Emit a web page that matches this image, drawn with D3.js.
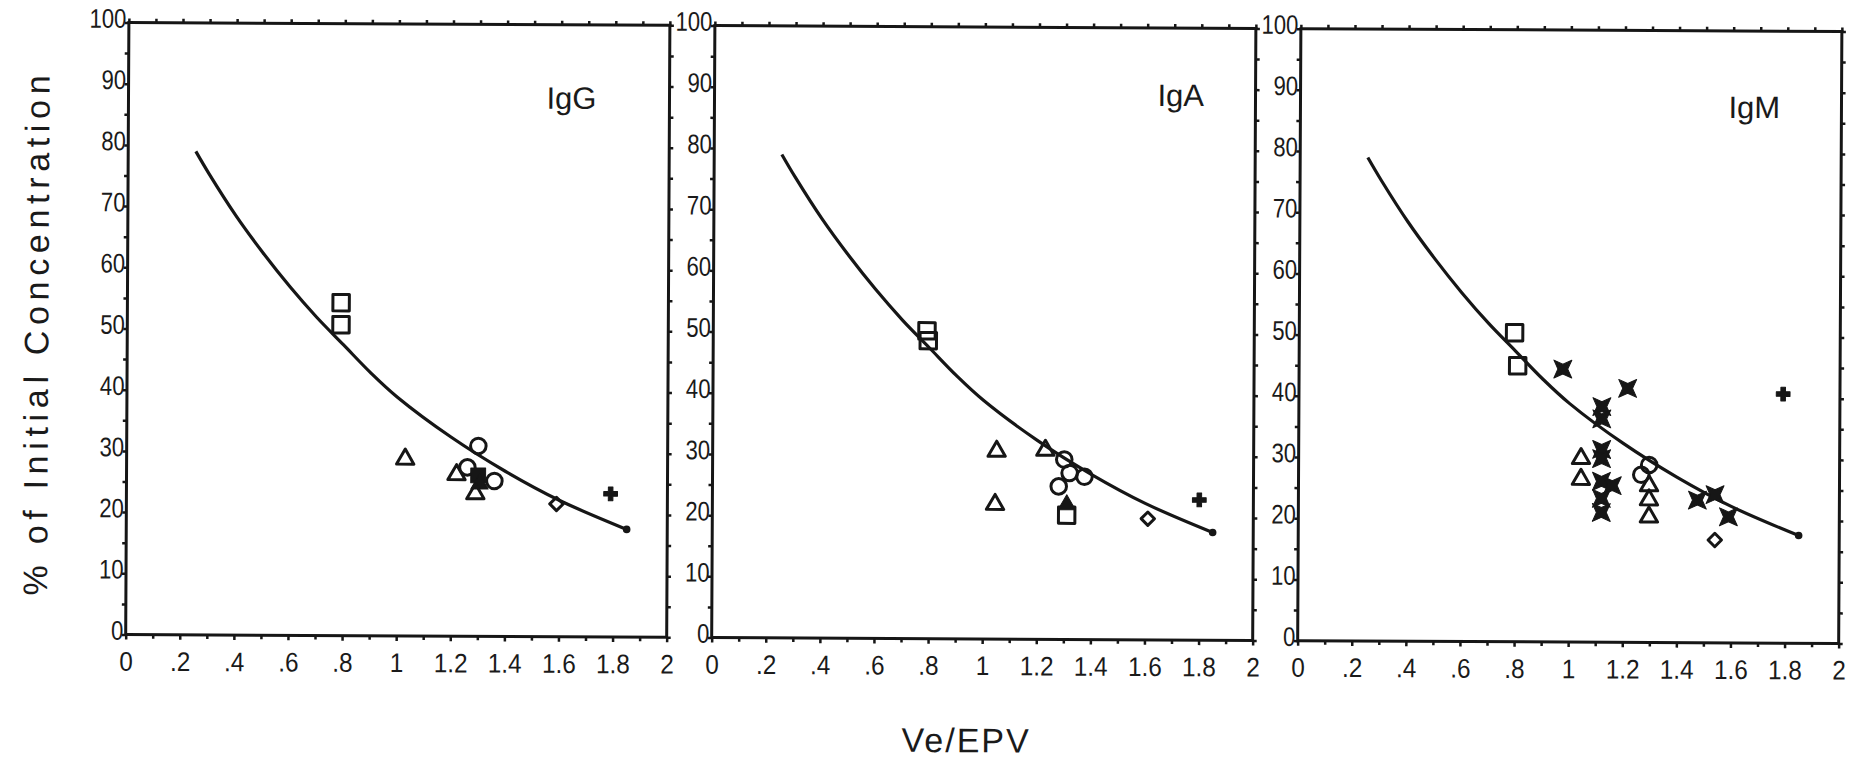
<!DOCTYPE html>
<html>
<head>
<meta charset="utf-8">
<script src="https://cdn.jsdelivr.net/npm/d3@7"></script>
<style>
  body { margin: 0; background: #fff; }
  svg { display: block; }
  .axis text { font-family: "Liberation Sans", Arial, sans-serif; font-size: 27px; fill: #1a1a1a; }
  .axis line { stroke: #161616; stroke-width: 2.5; }
  .title { font-family: "Liberation Sans", Arial, sans-serif; font-size: 31px; fill: #1a1a1a; }
  .label { font-family: "Liberation Sans", Arial, sans-serif; fill: #1a1a1a; }
</style>
</head>
<body>
<div id="chart"></div>
<script>
// tick labels
const xTicks = [0, 0.2, 0.4, 0.6, 0.8, 1, 1.2, 1.4, 1.6, 1.8, 2];
const xTickLabels = ["0", ".2", ".4", ".6", ".8", "1", "1.2", "1.4", "1.6", "1.8", "2"];
const yTicks = [0, 10, 20, 30, 40, 50, 60, 70, 80, 90, 100];
const panelNames = ["IgG", "IgA", "IgM"];

// fitted curve (same in all panels)
const fitX = [0.25, 0.3, 0.4, 0.5, 0.6, 0.7, 0.8, 0.9, 1.0, 1.2, 1.4, 1.6, 1.85];
const fitY = [79, 75.3, 68.5, 62.5, 57, 52, 47.5, 43, 39, 32.5, 27, 22.3, 17.6];

// measured points  [Ve/EPV, % of initial, marker]
const iggPoints = [
  [0.79, 54.4, "square"], [0.79, 50.8, "square"],
  [1.03, 28.9, "triangle"], [1.22, 26.4, "triangle"],
  [1.30, 31.1, "circle"], [1.26, 27.6, "circle"],
  [1.30, 26.3, "fsquare"], [1.305, 24.9, "ftriangle"],
  [1.36, 25.4, "circle"], [1.29, 23.3, "triangle"],
  [1.59, 21.7, "diamond"], [1.79, 23.4, "plus"]
];
const igaPoints = [
  [0.79, 50.3, "square"], [0.795, 48.7, "square"],
  [1.05, 30.7, "triangle"], [1.045, 22.0, "triangle"], [1.23, 30.9, "triangle"],
  [1.30, 29.4, "circle"], [1.32, 27.2, "circle"], [1.28, 25.0, "circle"], [1.375, 26.6, "circle"],
  [1.31, 22.0, "ftriangle"], [1.31, 20.3, "square"],
  [1.61, 19.8, "diamond"], [1.80, 22.9, "plus"]
];
const igmPoints = [
  [0.796, 50.5, "square"], [0.808, 45.1, "square"],
  [0.975, 44.6, "star"], [1.215, 41.5, "star"],
  [1.12, 38.5, "star"], [1.12, 36.5, "star"], [1.12, 31.5, "star"], [1.12, 30.0, "star"],
  [1.044, 30.0, "triangle"], [1.044, 26.6, "triangle"],
  [1.12, 26.3, "star"], [1.16, 25.6, "star"], [1.12, 23.5, "star"], [1.12, 21.2, "star"],
  [1.296, 29.0, "circle"], [1.267, 27.4, "circle"],
  [1.296, 25.6, "triangle"], [1.296, 23.3, "triangle"], [1.296, 20.5, "triangle"],
  [1.475, 23.3, "star"], [1.54, 24.2, "star"], [1.59, 20.6, "star"],
  [1.54, 16.8, "diamond"], [1.79, 40.7, "plus"]
];
const panelData = [iggPoints, igaPoints, igmPoints];

const width = 1856, height = 773;
const lefts = [127, 713, 1299];
const panelTop = 26.7, pw = 541, ph = 612;
const titlePos = [[418, 84], [443, 78], [428, 87]];
const ink = "#161616";

// concave-sided filled X
const starSymbol = {
  draw(ctx, size) {
    const h = Math.sqrt(size) / 2, k = h * 0.55;
    ctx.moveTo(-h, -h); ctx.lineTo(0, -k); ctx.lineTo(h, -h); ctx.lineTo(k, 0);
    ctx.lineTo(h, h); ctx.lineTo(0, k); ctx.lineTo(-h, h); ctx.lineTo(-k, 0);
    ctx.closePath();
  }
};
// square-ish diamond
const diamondSymbol = {
  draw(ctx, size) {
    const h = Math.sqrt(size) / 2;
    ctx.moveTo(0, -h); ctx.lineTo(h, 0); ctx.lineTo(0, h); ctx.lineTo(-h, 0);
    ctx.closePath();
  }
};
const shapes = {
  square: { type: d3.symbolSquare, size: 270, fill: false },
  fsquare: { type: d3.symbolSquare, size: 220, fill: true },
  triangle: { type: d3.symbolTriangle, size: 130, fill: false },
  ftriangle: { type: d3.symbolTriangle, size: 130, fill: true },
  circle: { type: d3.symbolCircle, size: 190, fill: false },
  diamond: { type: diamondSymbol, size: 180, fill: false },
  plus: { type: d3.symbolCross, size: 105, fill: true },
  star: { type: starSymbol, size: 320, fill: true }
};

const svg = d3.select("#chart").append("svg").attr("width", width).attr("height", height);
svg.append("rect").attr("width", width).attr("height", height).attr("fill", "#fff");
const root = svg.append("g").attr("transform", "rotate(0.3 928 386)");

const minorX = d3.range(1, 20, 2).map(d => d / 10);
const minorY = d3.range(5, 100, 10);

panelNames.forEach((name, i) => {
  const g = root.append("g").attr("transform", `translate(${lefts[i]},${panelTop})`);
  const x = d3.scaleLinear().domain([0, 2]).range([0, pw]);
  const y = d3.scaleLinear().domain([0, 100]).range([ph, 0]);

  const noDomain = s => s.select(".domain").remove();

  // bottom
  g.append("g").attr("class", "axis").attr("transform", `translate(0,${ph})`)
    .call(d3.axisBottom(x).tickValues(xTicks).tickSize(5).tickPadding(12)
      .tickFormat((d, j) => xTickLabels[j]))
    .call(noDomain)
    .call(s => s.selectAll("text").attr("transform", "scale(0.9,1)"));
  g.append("g").attr("class", "axis").attr("transform", `translate(0,${ph})`)
    .call(d3.axisBottom(x).tickValues(minorX).tickSize(4).tickFormat(""))
    .call(noDomain);
  // top
  g.append("g").attr("class", "axis")
    .call(d3.axisTop(x).tickValues(xTicks.concat(minorX)).tickSize(4).tickFormat(""))
    .call(noDomain);
  // left
  g.append("g").attr("class", "axis")
    .call(d3.axisLeft(y).tickValues(yTicks).tickSize(4).tickPadding(-1))
    .call(noDomain)
    .call(s => s.selectAll("text").attr("dy", "0.18em").attr("transform", "scale(0.82,1)"));
  g.append("g").attr("class", "axis")
    .call(d3.axisLeft(y).tickValues(minorY).tickSize(4).tickFormat(""))
    .call(noDomain);
  // right
  g.append("g").attr("class", "axis").attr("transform", `translate(${pw},0)`)
    .call(d3.axisRight(y).tickValues(yTicks.concat(minorY)).tickSize(4).tickFormat(""))
    .call(noDomain);

  // frame
  g.append("rect").attr("width", pw).attr("height", ph)
    .attr("fill", "none").attr("stroke", ink).attr("stroke-width", 3);

  // fitted curve
  const line = d3.line().x(d => x(d[0])).y(d => y(d[1])).curve(d3.curveCatmullRom);
  const fit = fitX.map((v, j) => [v, fitY[j]]);
  g.append("path").datum(fit).attr("d", line)
    .attr("fill", "none").attr("stroke", ink).attr("stroke-width", 3.2);
  g.append("circle").attr("cx", x(fitX[fitX.length - 1])).attr("cy", y(fitY[fitY.length - 1]))
    .attr("r", 3.8).attr("fill", ink);

  // markers
  g.selectAll(".pt").data(panelData[i]).join("path")
    .attr("class", "pt")
    .attr("transform", d => `translate(${x(d[0])},${y(d[1])})`)
    .attr("d", d => d3.symbol().type(shapes[d[2]].type).size(shapes[d[2]].size)())
    .attr("fill", d => shapes[d[2]].fill ? ink : "none")
    .attr("stroke", ink)
    .attr("stroke-width", d => shapes[d[2]].fill ? 1 : 3)
    .attr("stroke-linejoin", "round");

  g.append("text").attr("class", "title")
    .attr("x", titlePos[i][0]).attr("y", titlePos[i][1])
    .text(name);
});

// axis titles
root.append("text").attr("class", "label")
  .attr("transform", "translate(48,340) rotate(-90)")
  .attr("text-anchor", "middle")
  .attr("font-size", 34)
  .attr("textLength", 520).attr("lengthAdjust", "spacing")
  .text("% of Initial Concentration");

root.append("text").attr("class", "label")
  .attr("x", 968).attr("y", 752)
  .attr("text-anchor", "middle")
  .attr("font-size", 34)
  .attr("letter-spacing", 2)
  .text("Ve/EPV");
</script>
</body>
</html>
